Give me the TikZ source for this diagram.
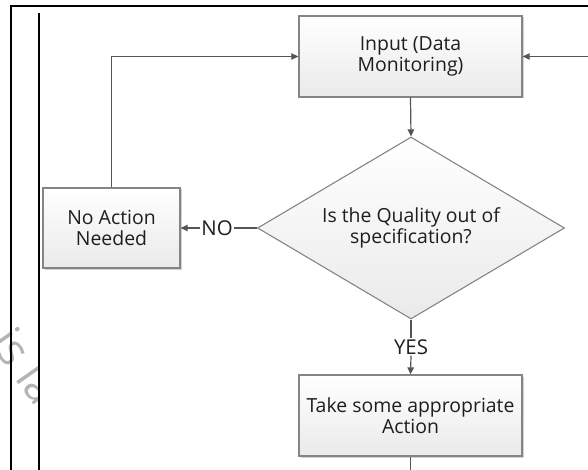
\documentclass[tikz,border=0pt]{standalone}
\usepackage{fontspec}
\setmainfont{Open Sans}
\usetikzlibrary{shapes.geometric,arrows.meta,shadows}
\definecolor{boxborder}{HTML}{858585}
\definecolor{linegray}{HTML}{555555}
\definecolor{boxbot}{HTML}{EAEAEA}
\definecolor{wmark}{HTML}{B4B4B4}
\definecolor{txt}{HTML}{1E1E1E}
\tikzset{
  flowbox/.style={rectangle, draw=boxborder, line width=1.3bp, top color=white, bottom color=boxbot,
    inner sep=0pt, align=center, text=txt, font=\fontsize{19.5}{21}\selectfont,
    drop shadow={shadow xshift=1.5bp, shadow yshift=-1.5bp, fill=black!30, opacity=0.6}},
  decision/.style={diamond, aspect=1.687, draw=boxborder, line width=1.1bp, top color=white, bottom color=boxbot,
    inner sep=0pt, align=center, text=txt, font=\fontsize{19.5}{21}\selectfont},
  conn/.style={draw=linegray, line width=1.2bp},
  arr/.style={conn, -{Triangle[length=7bp,width=6.5bp]}},
  lbl/.style={font=\fontsize{20.5}{21}\selectfont, text=txt, inner sep=1bp},
  frameline/.style={draw=black, line width=2bp},
}
\begin{document}
\begin{tikzpicture}[x=1bp,y=-1bp]
\useasboundingbox (0,0) rectangle (588,470);
% watermark (partly hidden)
\begin{scope}
\clip (0,280) rectangle (38.5,430);
\node[text=wmark, rotate=-55, font=\fontsize{45}{45}\selectfont, anchor=base west, inner sep=0pt] (wm) at (-11,342) {is la};
\end{scope}
% frame
\draw[frameline] (588,6) -- (11,6) -- (11,470);
\draw[draw=black, line width=1.3bp] (39,13) -- (39,470);
% nodes
\node[flowbox, minimum width=223bp, minimum height=81bp] (input) at (410.5,56.5) {Input (Data\\Monitoring)};
\node[decision, minimum width=307bp, minimum height=182bp] (dec) at (411,228) {Is the Quality out of\\specification?};
\node[flowbox, minimum width=137bp, minimum height=80bp] (noact) at (111.5,228) {No Action\\Needed};
\node[flowbox, minimum width=223bp, minimum height=81bp] (act) at (410.5,415.5) {Take some appropriate\\Action};
\node[lbl] (no) at (217,228) {NO};
\node[lbl] (yes) at (411,347) {YES};
\coordinate (loopc) at (noact.north |- input.west);
\coordinate (rightin) at (588,56.5);
\coordinate (bottomout) at (410.5,470);
% connectors
\draw[arr] (input.south) -- (dec.north);
\draw[conn] (dec.west) -- (no.east);
\draw[arr] (no.west) -- (noact.east);
\draw[arr] (noact.north) -- (loopc) -- (input.west);
\draw[arr] (rightin) -- (input.east);
\draw[conn] (dec.south) -- (yes.north);
\draw[arr] (yes.south) -- (act.north);
\draw[conn] (act.south) -- (bottomout);
\end{tikzpicture}
\end{document}
